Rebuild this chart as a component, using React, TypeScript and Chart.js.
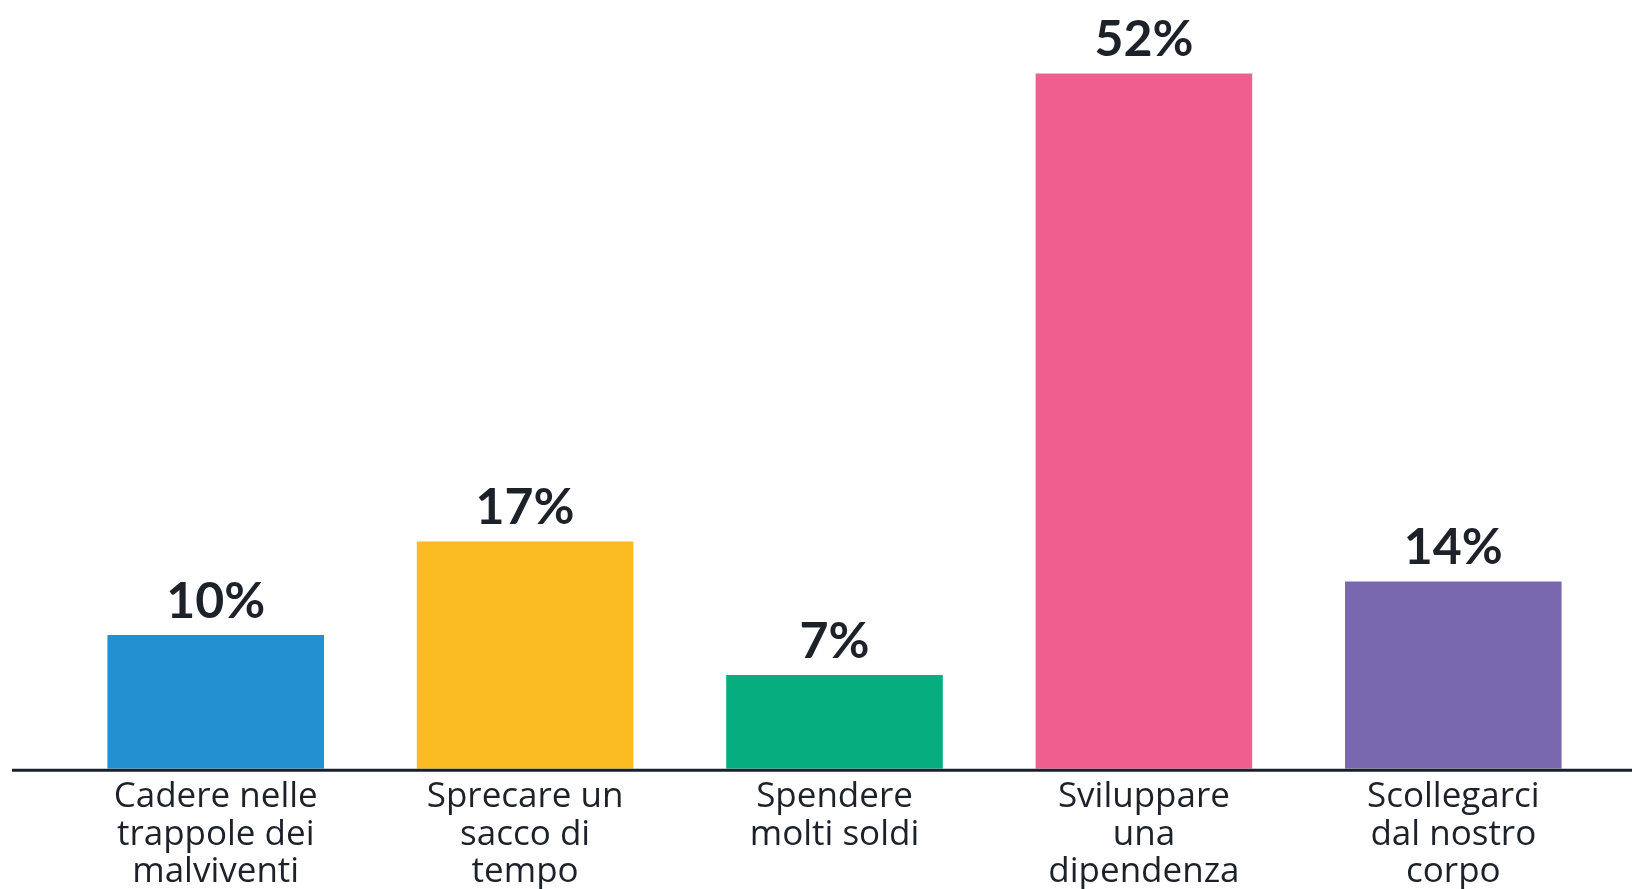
import React, { useEffect, useRef } from "react";
import { Chart, registerables } from "chart.js";

Chart.register(...registerables);

const categories: string[][] = [
  ["Cadere nelle", "trappole dei", "malviventi"],
  ["Sprecare un", "sacco di", "tempo"],
  ["Spendere", "molti soldi"],
  ["Sviluppare", "una", "dipendenza"],
  ["Scollegarci", "dal nostro", "corpo"],
];
const values: number[] = [10, 17, 7, 52, 14];
const barColors: string[] = ["#2290D1", "#FBBC21", "#05AD7F", "#EF5E8F", "#7A68AE"];
const valueLabels: string[] = ["10%", "17%", "7%", "52%", "14%"];

const TEXT = "#1d2129";
const VALUE_FONT = "Lato, 'Open Sans', sans-serif";
const LABEL_FONT = "'Open Sans', Lato, sans-serif";

const valueLabelPlugin = {
  id: "valueLabels",
  afterDatasetsDraw(chart: any) {
    const { ctx } = chart;
    const meta = chart.getDatasetMeta(0);
    ctx.save();
    ctx.fillStyle = TEXT;
    ctx.font = `700 50px ${VALUE_FONT}`;
    ctx.textAlign = "center";
    ctx.textBaseline = "alphabetic";
    meta.data.forEach((bar: any, i: number) => {
      ctx.fillText(valueLabels[i], bar.x, bar.y - 17);
    });
    ctx.restore();
  },
};

const baselinePlugin = {
  id: "baseline",
  afterDatasetsDraw(chart: any) {
    const { ctx, chartArea, width } = chart;
    ctx.save();
    ctx.strokeStyle = "#18202d";
    ctx.lineWidth = 3;
    ctx.beginPath();
    ctx.moveTo(12, chartArea.bottom + 1.5);
    ctx.lineTo(width, chartArea.bottom + 1.5);
    ctx.stroke();
    ctx.restore();
  },
};

export default function App() {
  const ref = useRef<HTMLCanvasElement | null>(null);
  useEffect(() => {
    document.body.style.margin = "0";
    document.body.style.background = "#ffffff";
    if (!ref.current) return;
    const chart = new Chart(ref.current, {
      type: "bar",
      data: {
        labels: categories,
        datasets: [
          {
            data: values,
            backgroundColor: barColors,
            borderWidth: 0,
            categoryPercentage: 1,
            barPercentage: 0.7,
          },
        ],
      },
      options: {
        animation: false,
        responsive: false,
        maintainAspectRatio: false,
        layout: { padding: { left: 61, right: 24, top: 20, bottom: -12 } },
        plugins: { legend: { display: false }, tooltip: { enabled: false } },
        scales: {
          x: {
            grid: { display: false, drawTicks: false },
            border: { display: false },
            ticks: {
              color: TEXT,
              padding: 10,
              font: { family: LABEL_FONT, size: 35, weight: 500 as any, lineHeight: 1.07 },
              maxRotation: 0,
              autoSkip: false,
            },
          },
          y: {
            display: false,
            min: 0,
            max: 56,
          },
        },
      },
      plugins: [valueLabelPlugin, baselinePlugin],
    });
    return () => chart.destroy();
  }, []);
  return (
    <div style={{ width: 1632, height: 889 }}>
      <canvas ref={ref} width={1632} height={889} style={{ display: "block" }} />
    </div>
  );
}
